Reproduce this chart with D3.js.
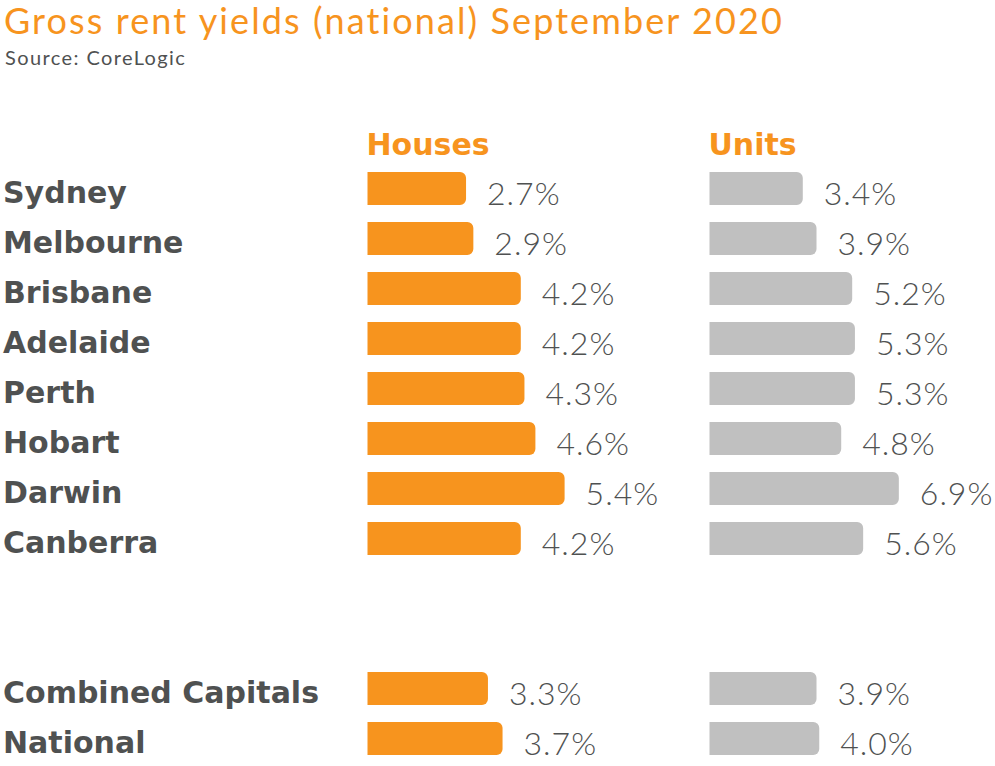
<!DOCTYPE html>
<html><head><meta charset="utf-8">
<script src="https://cdn.jsdelivr.net/npm/d3@7"></script>
<style>html,body{margin:0;padding:0;background:#fff;}svg{display:block;}</style>
</head><body>
<svg id="chart" width="995" height="766"></svg>
<script>
const title = "Gross rent yields (national) September 2020";
const source = "Source: CoreLogic";
const cities = ["Sydney","Melbourne","Brisbane","Adelaide","Perth","Hobart","Darwin","Canberra"];
const summaries = ["Combined Capitals","National"];
const housesCities = [2.7, 2.9, 4.2, 4.2, 4.3, 4.6, 5.4, 4.2];
const unitsCities  = [3.4, 3.9, 5.2, 5.3, 5.3, 4.8, 6.9, 5.6];
const housesSummary = [3.3, 3.7];
const unitsSummary  = [3.9, 4.0];
const seriesNames = ["Houses","Units"];

const ORANGE = "#F7941E", GREY = "#C0C0C0", TEXT = "#4F5151";
const svg = d3.select("#chart");

// rows: cities, two blank spacer rows, summaries
const rows = [...cities, "__gap1", "__gap2", ...summaries];
const y = d3.scaleBand().domain(rows).range([163.5, 763.5]).paddingInner(0.34).paddingOuter(0.17);

const data = [
  {name: seriesNames[0], color: ORANGE, x0: 367.5, slope: 36.5,
   values: [...housesCities, ...housesSummary]},
  {name: seriesNames[1], color: GREY, x0: 709.5, slope: 27.44,
   values: [...unitsCities, ...unitsSummary]}
];
const labelRows = [...cities, ...summaries];

svg.append("text").attr("x", 4).attr("y", 34).text(title)
  .attr("font-family", "Lato").attr("font-weight", 400).attr("font-size", 36)
  .attr("letter-spacing", 2.1).attr("fill", ORANGE);
svg.append("text").attr("x", 5).attr("y", 65).text(source)
  .attr("font-family", "Lato").attr("font-size", 20).attr("letter-spacing", 1.4).attr("fill", TEXT);

// category labels
svg.append("g").selectAll("text").data(labelRows).join("text")
  .attr("x", 3).attr("y", d => y(d) + y.bandwidth() - 2)
  .text(d => d)
  .attr("font-family", "DejaVu Sans").attr("font-weight", "bold").attr("font-size", 30).attr("fill", TEXT);

function barPath(x0, x1, yy, h, r) {
  r = Math.min(r, (x1 - x0));
  return `M${x0},${yy}H${x1 - r}A${r},${r} 0 0 1 ${x1},${yy + r}V${yy + h - r}A${r},${r} 0 0 1 ${x1 - r},${yy + h}H${x0}Z`;
}

data.forEach(s => {
  const x = d3.scaleLinear().domain([0, 1]).range([s.x0, s.x0 + s.slope]);
  const g = svg.append("g");
  g.append("text").attr("x", s.x0 - 1).attr("y", 155).text(s.name)
    .attr("font-family", "DejaVu Sans").attr("font-weight", "bold").attr("font-size", 30).attr("fill", ORANGE);
  const items = s.values.map((v, i) => ({v, row: labelRows[i]}));
  g.selectAll("path").data(items).join("path")
    .attr("d", d => barPath(x(0), x(d.v), y(d.row), y.bandwidth(), 6))
    .attr("fill", s.color);
  g.selectAll("text.val").data(items).join("text").attr("class", "val")
    .attr("x", d => x(d.v) + 21).attr("y", d => y(d.row) + y.bandwidth())
    .text(d => d.v.toFixed(1) + "%")
    .attr("font-family", "Lato").attr("font-weight", 300).attr("font-size", 32)
    .attr("letter-spacing", 1).attr("fill", TEXT);
});
</script>
</body></html>
